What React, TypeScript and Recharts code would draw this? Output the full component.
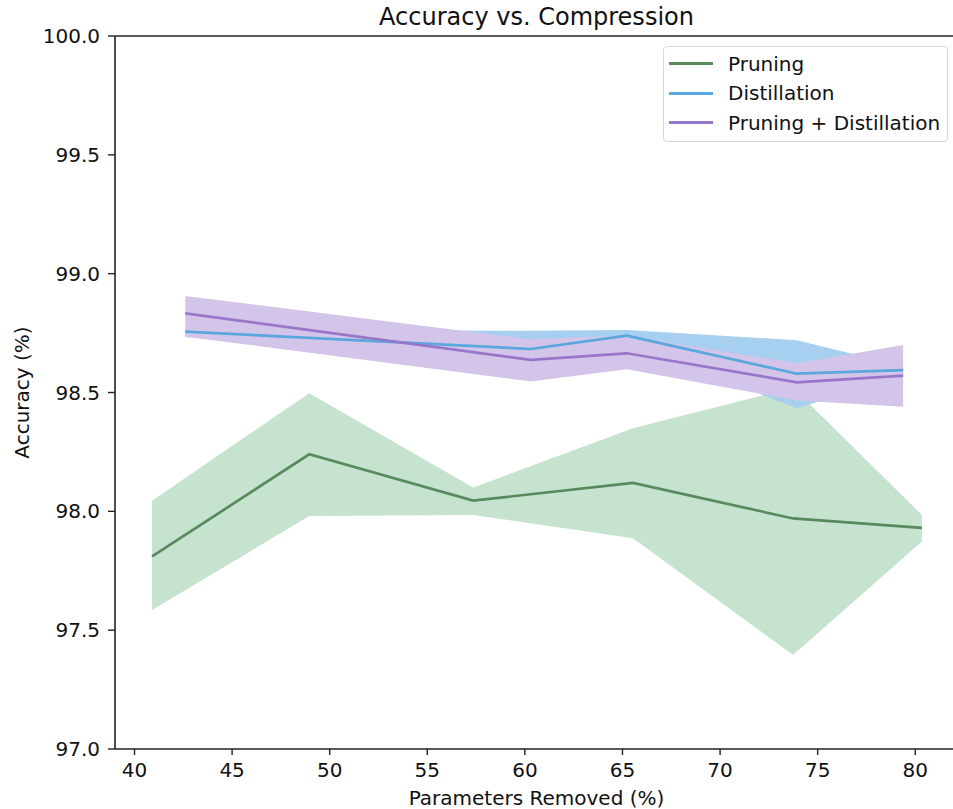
import React from 'react';
import { ComposedChart, Line, Area, XAxis, YAxis, ReferenceLine } from 'recharts';

const pruningX = [40.9, 48.95, 57.35, 65.54, 73.74, 80.34];
const pruningMean = [97.81, 98.24, 98.045, 98.12, 97.97, 97.93];
const pruningLow = [97.585, 97.98, 97.985, 97.887, 97.396, 97.873];
const pruningHigh = [98.045, 98.497, 98.1, 98.35, 98.52, 97.985];

const distX = [42.6, 60.3, 65.22, 73.93, 79.38];
const distMean = [98.756, 98.683, 98.739, 98.579, 98.594];
const distLow = [98.733, 98.63, 98.71, 98.434, 98.57];
const distHigh = [98.765, 98.76, 98.763, 98.72, 98.61];

const comboX = [42.6, 60.3, 65.22, 73.93, 79.38];
const comboMean = [98.833, 98.637, 98.665, 98.543, 98.571];
const comboLow = [98.735, 98.546, 98.598, 98.466, 98.44];
const comboHigh = [98.906, 98.724, 98.74, 98.623, 98.7];

const xTicks = [40, 45, 50, 55, 60, 65, 70, 75, 80];
const yTicks = [97.0, 97.5, 98.0, 98.5, 99.0, 99.5, 100.0];

const seriesNames = ['Pruning', 'Distillation', 'Pruning + Distillation'];
const lineColors = ['#588a5d', '#5aa6de', '#9877c8'];
const fillColors = ['#c5e3cf', '#a6cff0', '#d3c5e9'];

const build = (xs: number[], mean: number[], low: number[], high: number[]) =>
  xs.map((x, i) => ({ x, mean: mean[i], band: [low[i], high[i]] }));

const pruningData = build(pruningX, pruningMean, pruningLow, pruningHigh);
const distData = build(distX, distMean, distLow, distHigh);
const comboData = build(comboX, comboMean, comboLow, comboHigh);

const FONT = '"DejaVu Sans", sans-serif';
const AXIS = '#222';

export default function App() {
  return (
    <div style={{ position: 'absolute', left: 0, top: 0, width: 953, height: 809, overflow: 'hidden', background: '#fff', fontFamily: FONT }}>
      <ComposedChart
        width={960}
        height={809}
        margin={{ top: 36, right: 2, bottom: 0, left: 0 }}
        style={{ fontFamily: FONT }}
      >
        <XAxis
          type="number"
          dataKey="x"
          domain={[39.0, 82.19]}
          allowDataOverflow
          ticks={xTicks}
          height={60}
          tickSize={6}
          tickMargin={8}
          tick={{ fontSize: 20, fill: '#111', fontFamily: FONT }}
          axisLine={{ stroke: AXIS, strokeWidth: 1.6 }}
          tickLine={{ stroke: AXIS, strokeWidth: 1.4 }}
          label={{
            content: (props: any) => {
              const vb = props.viewBox || { x: 115, y: 749, width: 843, height: 60 };
              return (
                <text x={vb.x + vb.width / 2} y={805} textAnchor="middle" fontSize={20} fill="#111" fontFamily={FONT}>
                  Parameters Removed (%)
                </text>
              );
            },
          }}
        />
        <YAxis
          type="number"
          domain={[97, 100]}
          allowDataOverflow
          ticks={yTicks}
          width={115}
          tickSize={7}
          tickMargin={8}
          tickFormatter={(v: number) => v.toFixed(1)}
          tick={{ fontSize: 20, fill: '#111', fontFamily: FONT }}
          axisLine={{ stroke: AXIS, strokeWidth: 1.6 }}
          tickLine={{ stroke: AXIS, strokeWidth: 1.4 }}
          label={{
            content: (props: any) => {
              const vb = props.viewBox || { x: 0, y: 36, width: 115, height: 713 };
              const cy = vb.y + vb.height / 2;
              return (
                <text x={29} y={cy} transform={`rotate(-90 29 ${cy})`} textAnchor="middle" fontSize={20} fill="#111" fontFamily={FONT}>
                  Accuracy (%)
                </text>
              );
            },
          }}
        />
        <ReferenceLine y={100} stroke={AXIS} strokeWidth={1.6} />
        <Area data={pruningData} dataKey="band" type="linear" stroke="none" fill={fillColors[0]} fillOpacity={1} isAnimationActive={false} />
        <Line data={pruningData} dataKey="mean" name={seriesNames[0]} type="linear" stroke={lineColors[0]} strokeWidth={2.7} dot={false} isAnimationActive={false} />
        <Area data={distData} dataKey="band" type="linear" stroke="none" fill={fillColors[1]} fillOpacity={1} isAnimationActive={false} />
        <Area data={comboData} dataKey="band" type="linear" stroke="none" fill={fillColors[2]} fillOpacity={1} isAnimationActive={false} />
        <Line data={distData} dataKey="mean" name={seriesNames[1]} type="linear" stroke={lineColors[1]} strokeWidth={2.7} dot={false} isAnimationActive={false} />
        <Line data={comboData} dataKey="mean" name={seriesNames[2]} type="linear" stroke={lineColors[2]} strokeWidth={2.7} dot={false} isAnimationActive={false} />
      </ComposedChart>
      <div style={{ position: 'absolute', left: 115, width: 843, top: 5, lineHeight: '24px', fontSize: 24, textAlign: 'center', color: '#111' }}>
        Accuracy vs. Compression
      </div>
      <div
        style={{
          position: 'absolute',
          left: 663,
          top: 46,
          width: 285,
          height: 96,
          boxSizing: 'border-box',
          border: '1px solid #d8d8d8',
          borderRadius: 4,
          background: 'rgba(255,255,255,0.8)',
          paddingTop: 2,
          paddingLeft: 5,
        }}
      >
        {seriesNames.map((n, i) => (
          <div key={n} style={{ display: 'flex', alignItems: 'center', height: 29.5 }}>
            <div style={{ width: 44, height: 3, background: lineColors[i], marginRight: 15 }} />
            <span style={{ fontSize: 20, color: '#111', whiteSpace: 'nowrap' }}>{n}</span>
          </div>
        ))}
      </div>
    </div>
  );
}
